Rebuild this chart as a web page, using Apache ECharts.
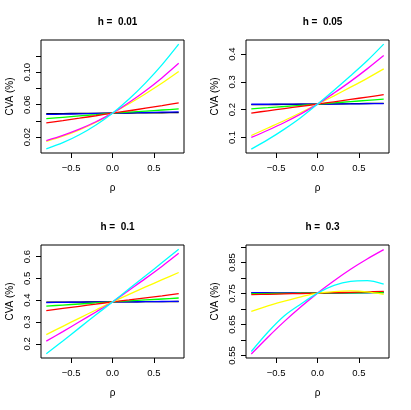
<!DOCTYPE html>
<html>
<head>
<meta charset="utf-8">
<script src="https://cdn.jsdelivr.net/npm/echarts@6/dist/echarts.min.js"></script>
<style>
  html, body { margin: 0; padding: 0; background: #fff; }
  #chart { width: 411px; height: 410px; }
</style>
</head>
<body>
<div id="chart"></div>
<script>
// rho grid shared by every panel
var rho = [-0.8, -0.6, -0.4, -0.2, 0, 0.2, 0.4, 0.6, 0.8]

var panelTitles = ['h =  0.01', 'h =  0.05', 'h =  0.1', 'h =  0.3']
var lineColors = ['#000000', '#0000ff', '#00ff00', '#ff0000', '#ffff00', '#ff00ff', '#00ffff']

// h = 0.01
var h01Black = [0.0488, 0.0490, 0.0492, 0.0493, 0.0495, 0.0497, 0.0498, 0.0500, 0.0502]
var h01Blue = [0.0479, 0.0483, 0.0487, 0.0491, 0.0495, 0.0499, 0.0503, 0.0507, 0.0511]
var h01Green = [0.0428, 0.0444, 0.0461, 0.0478, 0.0495, 0.0508, 0.0521, 0.0534, 0.0547]
var h01Red = [0.0376, 0.0404, 0.0433, 0.0463, 0.0495, 0.0525, 0.0556, 0.0588, 0.0621]
var h01Yellow = [0.0146, 0.0211, 0.0289, 0.0383, 0.0495, 0.0611, 0.0735, 0.0866, 0.1008]
var h01Magenta = [0.0158, 0.0222, 0.0298, 0.0389, 0.0495, 0.0627, 0.0772, 0.0933, 0.1110]
var h01Cyan = [0.0056, 0.0131, 0.0229, 0.0350, 0.0495, 0.0670, 0.0869, 0.1093, 0.1345]

// h = 0.05
var h05Black = [0.2180, 0.2185, 0.2190, 0.2195, 0.2200, 0.2208, 0.2215, 0.2223, 0.2230]
var h05Blue = [0.2195, 0.2196, 0.2198, 0.2199, 0.2200, 0.2205, 0.2210, 0.2215, 0.2220]
var h05Green = [0.203, 0.2072, 0.2115, 0.2158, 0.220, 0.2245, 0.229, 0.2335, 0.238]
var h05Red = [0.188, 0.196, 0.204, 0.212, 0.220, 0.2285, 0.237, 0.2455, 0.254]
var h05Yellow = [0.107, 0.134, 0.161, 0.190, 0.220, 0.250, 0.281, 0.313, 0.347]
var h05Magenta = [0.100, 0.126, 0.154, 0.185, 0.220, 0.260, 0.302, 0.347, 0.395]
var h05Cyan = [0.058, 0.092, 0.130, 0.172, 0.220, 0.270, 0.322, 0.376, 0.436]

// h = 0.1
var h1Black = [0.391, 0.391, 0.3915, 0.392, 0.392, 0.3925, 0.393, 0.3935, 0.394]
var h1Blue = [0.389, 0.390, 0.391, 0.3915, 0.392, 0.3926, 0.393, 0.394, 0.3945]
var h1Green = [0.373, 0.3778, 0.3825, 0.3873, 0.392, 0.3965, 0.401, 0.4055, 0.410]
var h1Red = [0.352, 0.362, 0.372, 0.382, 0.392, 0.401, 0.411, 0.420, 0.430]
var h1Yellow = [0.242, 0.280, 0.318, 0.355, 0.392, 0.427, 0.461, 0.494, 0.527]
var h1Magenta = [0.212, 0.256, 0.301, 0.346, 0.392, 0.446, 0.500, 0.556, 0.615]
var h1Cyan = [0.154, 0.213, 0.273, 0.333, 0.392, 0.452, 0.512, 0.573, 0.634]

// h = 0.3
var h3Black = [0.7515, 0.7514, 0.7512, 0.7511, 0.751, 0.7518, 0.7527, 0.7536, 0.7545]
var h3Blue = [0.7525, 0.752, 0.7517, 0.7513, 0.751, 0.7514, 0.7518, 0.7522, 0.7526]
var h3Green = [0.749, 0.7495, 0.750, 0.7505, 0.751, 0.7515, 0.752, 0.7525, 0.753]
var h3Red = [0.746, 0.7472, 0.7485, 0.7497, 0.751, 0.7523, 0.7537, 0.755, 0.7563]
var h3Yellow = [0.692, 0.710, 0.725, 0.739, 0.751, 0.756, 0.758, 0.755, 0.747]
var h3Magenta = [0.555, 0.609, 0.660, 0.707, 0.751, 0.791, 0.828, 0.861, 0.891]
var h3Cyan = [0.563, 0.625, 0.678, 0.716, 0.751, 0.776, 0.789, 0.791, 0.780]

var panelSeries = [
  [h01Black, h01Blue, h01Green, h01Red, h01Yellow, h01Magenta, h01Cyan],
  [h05Black, h05Blue, h05Green, h05Red, h05Yellow, h05Magenta, h05Cyan],
  [h1Black, h1Blue, h1Green, h1Red, h1Yellow, h1Magenta, h1Cyan],
  [h3Black, h3Blue, h3Green, h3Red, h3Yellow, h3Magenta, h3Cyan]
]

// axis ranges (R pads 4% around the data)
var xRange = [-0.864, 0.864]
var xTicks = [-0.5, 0, 0.5]
var yRanges = [[0.0004, 0.1397], [0.044, 0.451], [0.1348, 0.6532], [0.542, 0.906]]
var yTicks = [
  [0.02, 0.04, 0.06, 0.08, 0.10, 0.12],
  [0.1, 0.2, 0.3, 0.4],
  [0.2, 0.3, 0.4, 0.5, 0.6],
  [0.55, 0.60, 0.65, 0.70, 0.75, 0.80, 0.85, 0.90]
]
var yLabels = [
  [0.02, 0.06, 0.10],
  [0.1, 0.2, 0.3, 0.4],
  [0.2, 0.3, 0.4, 0.5, 0.6],
  [0.55, 0.65, 0.75, 0.85]
]
var yDigits = [2, 1, 1, 2]

function buildOption() {
  var font = '"Liberation Sans", Arial, Helvetica, sans-serif'
  var grids = [], xAxes = [], yAxes = [], titles = [], series = []
  for (var p = 0; p < 4; p++) {
    var col = p % 2, row = Math.floor(p / 2)
    var gx = 41 + col * 205
    var gy = 40 + row * 205
    grids.push({
      left: gx, top: gy, width: 143, height: 113,
      show: true, borderColor: '#000', borderWidth: 1, backgroundColor: 'transparent'
    })
    titles.push({
      text: panelTitles[p],
      left: gx + 71.5, top: 12 + row * 205, textAlign: 'center',
      textStyle: { fontFamily: font, fontSize: 10, fontWeight: 'bold', color: '#000' }
    })
    xAxes.push({
      gridIndex: p, type: 'value', min: xRange[0], max: xRange[1], position: 'bottom',
      name: 'ρ', nameLocation: 'middle', nameGap: 30,
      nameTextStyle: { fontFamily: font, fontSize: 10, color: '#000' },
      axisLine: { show: false, onZero: false },
      splitLine: { show: false },
      axisTick: { show: true, length: 5, customValues: xTicks, lineStyle: { color: '#000', width: 1 } },
      axisLabel: {
        customValues: xTicks, margin: 10, fontFamily: font, fontSize: 9.5, color: '#000',
        formatter: function (v) { return v.toFixed(1).replace('-', '\u2212') }
      }
    })
    yAxes.push({
      gridIndex: p, type: 'value', min: yRanges[p][0], max: yRanges[p][1], position: 'left',
      name: 'CVA (%)', nameLocation: 'middle', nameGap: 26,
      nameTextStyle: { fontFamily: font, fontSize: 10, color: '#000' },
      axisLine: { show: false, onZero: false },
      splitLine: { show: false },
      axisTick: { show: true, length: 5, customValues: yTicks[p], lineStyle: { color: '#000', width: 1 } },
      axisLabel: {
        customValues: yLabels[p], rotate: 90, margin: 9, fontFamily: font, fontSize: 9.5, color: '#000',
        formatter: (function (d) { return function (v) { return v.toFixed(d) } })(yDigits[p])
      }
    })
    for (var s = 0; s < 7; s++) {
      var vals = panelSeries[p][s]
      series.push({
        type: 'line', xAxisIndex: p, yAxisIndex: p,
        data: rho.map(function (r, i) { return [r, vals[i]] }),
        showSymbol: false, smooth: 0.3, silent: true,
        lineStyle: { color: lineColors[s], width: 1.3 }
      })
    }
  }
  return { animation: false, title: titles, grid: grids, xAxis: xAxes, yAxis: yAxes, series: series }
}

var chart = echarts.init(document.getElementById('chart'))
chart.setOption(buildOption())
</script>
</body>
</html>
